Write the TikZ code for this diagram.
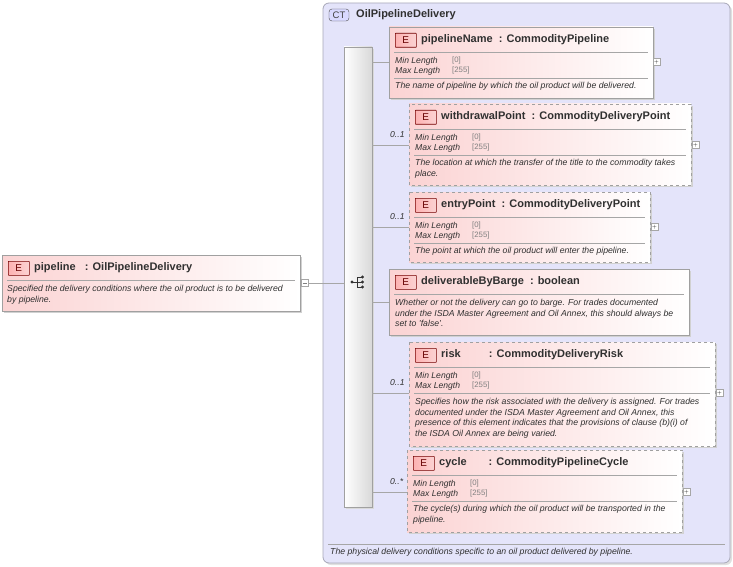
\documentclass[tikz,border=0pt]{standalone}
\usepackage{fontspec}
\setmainfont{Liberation Sans}
\usetikzlibrary{calc}
\definecolor{ctfill}{HTML}{E4E4FA}
\definecolor{ctline}{HTML}{A8A8B8}
\definecolor{pinkL}{HTML}{FBD3D3}
\definecolor{boxline}{HTML}{A0A0A0}
\definecolor{txt}{HTML}{303030}
\definecolor{lentxt}{HTML}{808080}
\tikzset{
  elbox/.style={draw=boxline,line width=0.8pt,left color=pinkL,right color=white},
  shadowbox/.style={fill=black!18},
  badge/.style={draw=red!45!black,line width=0.6pt,left color=pinkL!60!red!60,right color=pinkL,rounded corners=0.5pt,text=red!40!black},
  sep/.style={draw=gray!70,line width=0.6pt},
  conn/.style={draw=gray!70,line width=0.8pt},
  ttl/.style={font=\bfseries\fontsize{11}{12}\selectfont,text=txt,anchor=west,inner sep=0},
  lbl/.style={font=\itshape\fontsize{8.6}{9.8}\selectfont,text=txt,anchor=west,inner sep=0},
  lenv/.style={font=\fontsize{7.8}{9}\selectfont,text=lentxt,anchor=west,inner sep=0},
  desc/.style={font=\itshape\fontsize{8.7}{10.6}\selectfont,text=txt,anchor=north west,inner sep=0,align=left},
  plusbox/.style={draw=gray!70,fill=white,line width=0.5pt,minimum size=7pt,inner sep=0},
}
\newcommand{\elembox}[7]{%
  \fill[shadowbox] (#2+2,#3+2) rectangle (#2+#4+2,#3+#5+2);
  \path[elbox,#6] (#2,#3) rectangle (#2+#4,#3+#5);
  \coordinate (#1) at (#2,#3+#5/2);
  \node[badge,minimum width=21pt,minimum height=14pt,inner sep=0,anchor=north west] (#1b) at (#2+6,#3+6) {\fontsize{10}{10}\selectfont E};
  \node[ttl] (#1t) at (#2+32,#3+13) {#7};
  \draw[sep] (#2+5,#3+25.5) -- (#2+#4-5,#3+25.5);
}
\newcommand{\lenblock}[3]{%
  \node[lbl] at (#1+6,#2+34) {Min Length};
  \node[lenv] at (#1+63,#2+33) {[0]};
  \node[lbl] at (#1+6,#2+44) {Max Length};
  \node[lenv] at (#1+63,#2+43) {[255]};
  \draw[sep] (#1+5,#2+51.5) -- (#1+#3-5,#2+51.5);
}
\begin{document}
\begin{tikzpicture}[x=1pt,y=-1pt]
\useasboundingbox (0,0) rectangle (733,567);
\fill[black!12] (325,5) [rounded corners=6pt] rectangle (732,565);
\path[fill=ctfill,draw=ctline,line width=0.8pt,rounded corners=6pt] (323,3) rectangle (730,563);
\node[draw=black!70,fill=blue!15,rounded corners=3pt,minimum width=20pt,minimum height=12pt,inner sep=0,font=\fontsize{9.5}{9}\selectfont,text=black!75] (ct) at (339,15) {CT};
\node[ttl] (cttitle) at (356,15) {OilPipelineDelivery};
\draw[sep] (328,544.5) -- (725,544.5);
\node[desc] (ctdesc) at (330,548) {The physical delivery conditions specific to an oil product delivered by pipeline.};
\fill[black!15] (346,49) rectangle (374,509);
\path[draw=boxline,line width=0.8pt,left color=white,right color=gray!30] (344,47) rectangle (372,507);
\coordinate (seqL) at (344,283);
\begin{scope}[line width=0.7pt,black!80]
\fill (352,282) circle (1.7);
\draw (352,282) -- (357,282);
\draw (357,277) -- (357,287);
\draw (357,277) -- (362,277) (357,282) -- (362,282) (357,287) -- (362,287);
\fill (362.5,277) circle (1.7) (362.5,282) circle (1.7) (362.5,287) circle (1.7);
\end{scope}
\elembox{pipe}{2}{255}{298}{56}{}{pipeline\ \ \ : OilPipelineDelivery}
\node[desc] at (7,285) {Specified the delivery conditions where the oil product is to be delivered\\by pipeline.};
\node[plusbox] (pipem) at (304.5,283) {};
\draw[line width=0.5pt,gray] (302.5,283) -- (306.5,283);
\draw[conn] (pipem.east) -- (seqL);

\elembox{c1}{389}{27}{264}{71}{}{pipelineName\ \ : CommodityPipeline}
\lenblock{389}{27}{264}
\node[desc] at (395,82) {The name of pipeline by which the oil product will be delivered.};
\node[plusbox] (c1p) at (656.5,62) {$\scriptscriptstyle+$};

\elembox{c2}{409}{104}{282}{81}{dashed}{withdrawalPoint\ \ : CommodityDeliveryPoint}
\lenblock{409}{104}{282}
\node[desc] at (415,159) {The location at which the transfer of the title to the commodity takes\\place.};
\node[plusbox] (c2p) at (695.5,145) {$\scriptscriptstyle+$};

\elembox{c3}{409}{192}{241}{70}{dashed}{entryPoint\ \ : CommodityDeliveryPoint}
\lenblock{409}{192}{241}
\node[desc] at (415,247) {The point at which the oil product will enter the pipeline.};
\node[plusbox] (c3p) at (654.5,227) {$\scriptscriptstyle+$};

\elembox{c4}{389}{269}{300}{66}{}{deliverableByBarge\ \ : boolean}
\node[desc] at (395,299) {Whether or not the delivery can go to barge. For trades documented\\under the ISDA Master Agreement and Oil Annex, this should always be\\set to 'false'.};

\elembox{c5}{409}{342}{306}{104}{dashed}{risk\qquad\ \ : CommodityDeliveryRisk}
\lenblock{409}{342}{306}
\node[desc] at (415,398) {Specifies how the risk associated with the delivery is assigned. For trades\\documented under the ISDA Master Agreement and Oil Annex, this\\presence of this element indicates that the provisions of clause (b)(i) of\\the ISDA Oil Annex are being varied.};
\node[plusbox] (c5p) at (719.5,393) {$\scriptscriptstyle+$};

\elembox{c6}{407}{450}{275}{82}{dashed}{cycle\qquad : CommodityPipelineCycle}
\lenblock{407}{450}{275}
\node[desc] at (413,505) {The cycle(s) during which the oil product will be transported in the\\pipeline.};
\node[plusbox] (c6p) at (686.5,492) {$\scriptscriptstyle+$};

\foreach \c/\yy in {c1/62,c2/145,c3/227,c4/302,c5/393,c6/492}{
  \draw[conn] (372,\yy) -- (\c |- 0,\yy);
}
\node[lbl] at (390,135) {0..1};
\node[lbl] at (390,217) {0..1};
\node[lbl] at (390,383) {0..1};
\node[lbl] at (390,482) {0..*};
\end{tikzpicture}
\end{document}
